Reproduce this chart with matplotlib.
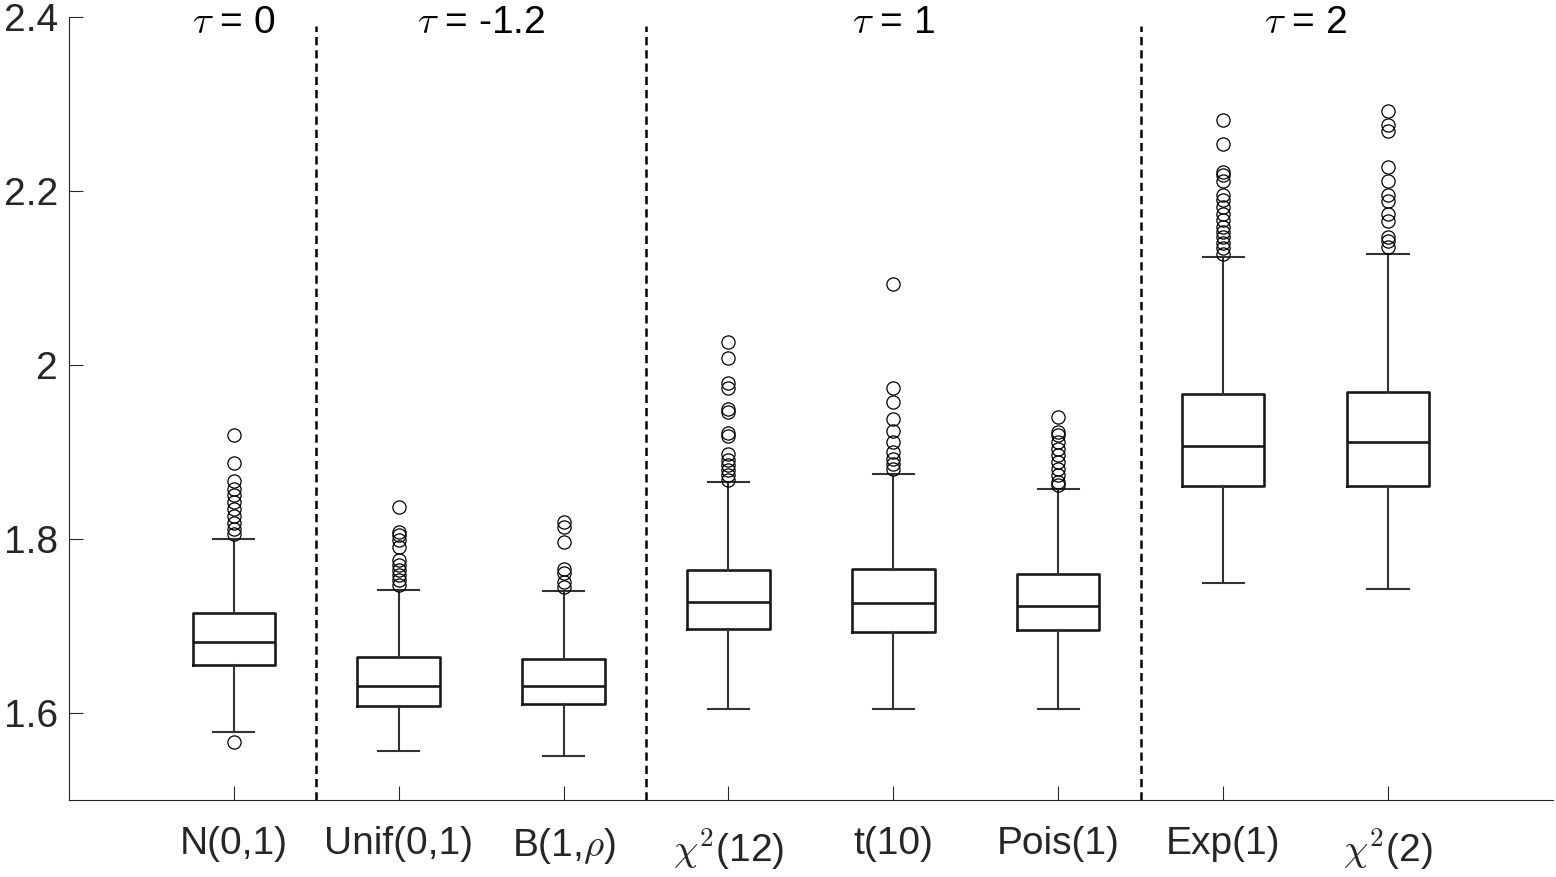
import numpy as np
import matplotlib
matplotlib.use('Agg')
import matplotlib.pyplot as plt

plt.rcParams['font.family'] = ['Liberation Sans', 'DejaVu Sans']
plt.rcParams['mathtext.fontset'] = 'cm'

labels = ['N(0,1)', 'Unif(0,1)', r'B(1,$\rho$)', r'$\chi^{\mathsf{2}}$(12)',
          't(10)', 'Pois(1)', 'Exp(1)', r'$\chi^{\mathsf{2}}$(2)']

q1 = [1.655, 1.608, 1.610, 1.697, 1.693, 1.695, 1.861, 1.861]
med = [1.682, 1.631, 1.631, 1.728, 1.726, 1.723, 1.907, 1.911]
q3 = [1.715, 1.664, 1.662, 1.764, 1.766, 1.760, 1.967, 1.969]
whislo = [1.578, 1.556, 1.551, 1.605, 1.605, 1.605, 1.750, 1.743]
whishi = [1.800, 1.741, 1.740, 1.866, 1.875, 1.858, 2.124, 2.128]

fliers = [
    [1.567, 1.919, 1.887, 1.867, 1.858, 1.851, 1.843, 1.835, 1.826, 1.818, 1.812, 1.806],
    [1.837, 1.808, 1.805, 1.799, 1.791, 1.776, 1.770, 1.764, 1.759, 1.753, 1.747],
    [1.819, 1.814, 1.796, 1.765, 1.761, 1.751, 1.745],
    [2.027, 2.008, 1.979, 1.973, 1.950, 1.946, 1.922, 1.918, 1.898, 1.891, 1.885,
     1.879, 1.874, 1.868],
    [2.093, 1.973, 1.957, 1.938, 1.924, 1.912, 1.900, 1.892, 1.886, 1.881],
    [1.940, 1.923, 1.919, 1.912, 1.904, 1.897, 1.889, 1.881, 1.874, 1.866, 1.862],
    [2.282, 2.254, 2.222, 2.218, 2.211, 2.195, 2.190, 2.182, 2.174, 2.167, 2.159,
     2.153, 2.147, 2.140, 2.134, 2.128],
    [2.292, 2.276, 2.269, 2.228, 2.212, 2.195, 2.188, 2.174, 2.165, 2.147, 2.142, 2.136],
]

groups = ['0', '-1.2', '1', '2']
group_centers = [1, 2.5, 5, 7.5]
separators = [1.5, 3.5, 6.5]

stats = []
for i in range(len(labels)):
    stats.append({'label': labels[i], 'q1': q1[i], 'med': med[i], 'q3': q3[i],
                  'whislo': whislo[i], 'whishi': whishi[i], 'fliers': fliers[i]})

fig = plt.figure(figsize=(15.56, 8.77), dpi=100)
ax = fig.add_axes([0.0443, 0.0878, 0.9537, 0.8928])

pos = np.arange(1, len(labels) + 1)
ax.bxp(stats, positions=pos, widths=0.5, capwidths=0.25, showfliers=True,
       boxprops=dict(color='#1a1a1a', linewidth=1.9),
       medianprops=dict(color='#1a1a1a', linewidth=1.9),
       whiskerprops=dict(color='#333333', linewidth=1.5),
       capprops=dict(color='#333333', linewidth=1.5),
       flierprops=dict(marker='o', markersize=9.5, markerfacecolor='none',
                       markeredgecolor='black', markeredgewidth=0.9))

for s in separators:
    ax.plot([s, s], [1.5, 2.39], color='black', linewidth=1.8,
            linestyle=(0, (3.3, 2.0)))

for c, g in zip(group_centers, groups):
    ax.text(c, 2.382, r'$\tau$ = ' + g, ha='center', va='baseline',
            fontsize=28, color='black')

ax.set_xlim(0, 9)
ax.set_ylim(1.5, 2.4)
ax.set_yticks([1.6, 1.8, 2.0, 2.2, 2.4])
ax.set_yticklabels(['1.6', '1.8', '2', '2.2', '2.4'])
ax.set_xticks(pos)
ax.set_xticklabels(labels)
ax.spines['top'].set_visible(False)
ax.spines['right'].set_visible(False)
for sp in ['left', 'bottom']:
    ax.spines[sp].set_color('#262626')
    ax.spines[sp].set_linewidth(0.8)
ax.tick_params(axis='both', direction='in', length=10, width=0.8,
               color='#262626', labelcolor='#262626', labelsize=28)
ax.tick_params(axis='x', pad=19)
ax.tick_params(axis='y', pad=8)

fig.savefig('out.png', dpi=100)
